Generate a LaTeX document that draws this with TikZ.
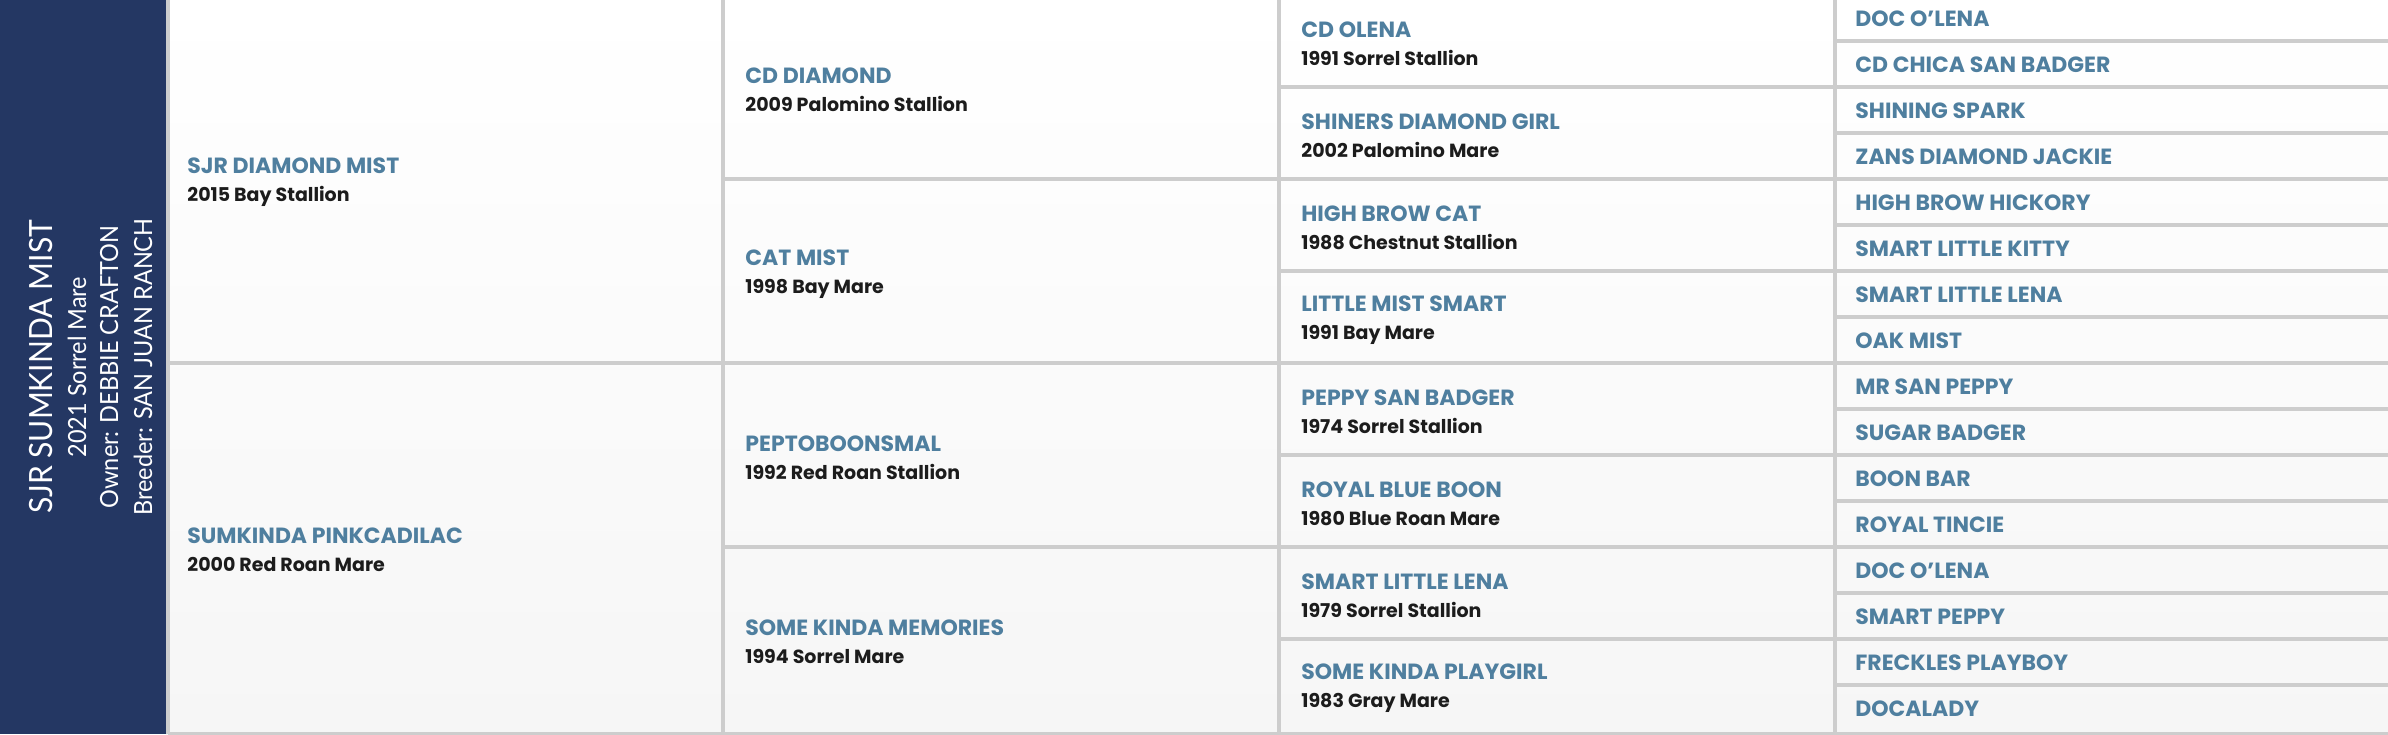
\documentclass[tikz,border=0pt]{standalone}
\usepackage{fontspec}
\setmainfont{Poppins}
\newfontfamily\panelfont{Lato}[FakeStretch=0.94]

\definecolor{navy}{HTML}{243763}
\definecolor{nameblue}{HTML}{4F7F9F}
\definecolor{yeartext}{HTML}{1C1C1C}
\definecolor{gridgray}{HTML}{CDCDCD}
\definecolor{cellgray}{HTML}{F6F6F6}

\newcommand{\horse}[2]{{\color{nameblue}#1}\\{\fontsize{9.5}{14}\selectfont\color{yeartext}#2}}

\begin{document}
\begin{tikzpicture}[x=0.5pt, y=-0.5pt,
    gridline/.style={draw=gridgray, line width=2pt},
    entry/.style={anchor=west, align=left, inner sep=0pt, font=\fontsize{11}{14}\selectfont\bfseries},
    panel/.style={rotate=90, anchor=base, text=white, inner sep=0pt}]
    \useasboundingbox (0,0) rectangle (2388,734);

    % Draw the background and the side panel
    \shade[top color=white, bottom color=cellgray] (166,0) rectangle (2388,734);
    \fill[navy] (0,0) rectangle (166,734);

    % Write the horse in the side panel
    \node[panel, font=\panelfont\fontsize{16}{16}\selectfont] (foal) at (52,367) {SJR SUMKINDA MIST};
    \node[panel, font=\panelfont\fontsize{12.5}{12.5}\selectfont] (born) at (86,367) {2021 Sorrel Mare};
    \node[panel, font=\panelfont\fontsize{12.5}{12.5}\selectfont] (owner) at (118,367) {Owner: DEBBIE CRAFTON};
    \node[panel, font=\panelfont\fontsize{12.5}{12.5}\selectfont] (breeder) at (152,367) {Breeder: SAN JUAN RANCH};

    % Draw the grid
    \foreach \x in {168,723,1279,1835}
        \draw[gridline] (\x,0) -- (\x,734);
    \draw[gridline] (168,363) -- (723,363);
    \foreach \y in {179,363,547}
        \draw[gridline] (723,\y) -- (1279,\y);
    \foreach \y in {87,179,...,639}
        \draw[gridline] (1279,\y) -- (1835,\y);
    \foreach \y in {41,87,...,685}
        \draw[gridline] (1835,\y) -- (2388,\y);
    \draw[gridline] (168,734) -- (2388,734);

    % Parents
    \foreach \hname/\born [count=\i] in {SJR DIAMOND MIST/2015 Bay Stallion,
        SUMKINDA PINKCADILAC/2000 Red Roan Mare}
        \node[entry] (par\i) at (187,{368*\i-186}) {\horse{\hname}{\born}};

    % Grandparents
    \foreach \hname/\born [count=\i] in {CD DIAMOND/2009 Palomino Stallion,
        CAT MIST/1998 Bay Mare, PEPTOBOONSMAL/1992 Red Roan Stallion,
        SOME KINDA MEMORIES/1994 Sorrel Mare}
        \node[entry] (gp\i) at (745,{184*\i-94}) {\horse{\hname}{\born}};

    % Great-grandparents
    \foreach \hname/\born [count=\i] in {CD OLENA/1991 Sorrel Stallion,
        SHINERS DIAMOND GIRL/2002 Palomino Mare, HIGH BROW CAT/1988 Chestnut Stallion,
        LITTLE MIST SMART/1991 Bay Mare, PEPPY SAN BADGER/1974 Sorrel Stallion,
        ROYAL BLUE BOON/1980 Blue Roan Mare, SMART LITTLE LENA/1979 Sorrel Stallion,
        SOME KINDA PLAYGIRL/1983 Gray Mare}
        \node[entry] (ggp\i) at (1301,{92*\i-48}) {\horse{\hname}{\born}};

    % Great-great-grandparents
    \foreach \hname [count=\i] in {DOC O'LENA, CD CHICA SAN BADGER, SHINING SPARK,
        ZANS DIAMOND JACKIE, HIGH BROW HICKORY, SMART LITTLE KITTY, SMART LITTLE LENA,
        OAK MIST, MR SAN PEPPY, SUGAR BADGER, BOON BAR, ROYAL TINCIE, DOC O'LENA,
        SMART PEPPY, FRECKLES PLAYBOY, DOCALADY}
        \node[entry, text=nameblue] (gggp\i) at (1855,{46*\i-27}) {\hname};
\end{tikzpicture}
\end{document}
